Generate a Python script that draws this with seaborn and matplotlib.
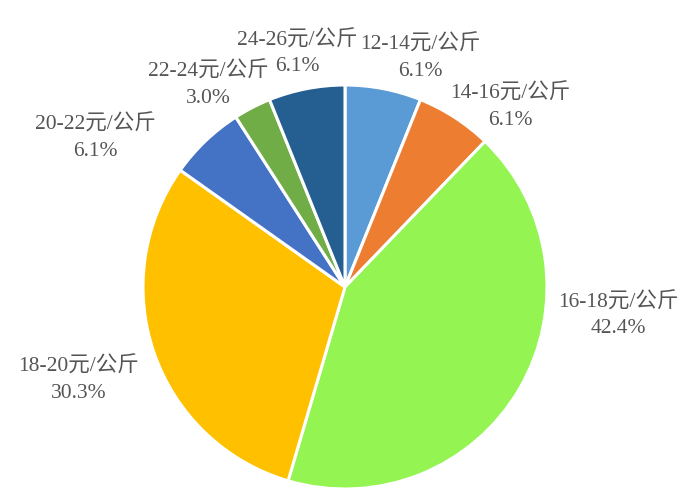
import matplotlib
matplotlib.use("Agg")
import matplotlib.pyplot as plt
import seaborn as sns

sns.set_theme(style="white")
plt.rcParams['font.family'] = ['Liberation Serif', 'Noto Sans CJK SC', 'DejaVu Sans']

categories = ["12-14元/公斤", "14-16元/公斤", "16-18元/公斤", "18-20元/公斤",
              "20-22元/公斤", "22-24元/公斤", "24-26元/公斤"]
percentages = [6.1, 6.1, 42.4, 30.3, 6.1, 3.0, 6.1]
colors = ["#5B9BD5", "#ED7D31", "#94F452", "#FFC000", "#4472C4", "#70AD47", "#255E91"]
# label centres relative to pie centre, in radius units (layout)
label_pos = [(0.371, 1.134), (0.817, 0.891), (1.351, -0.139), (-1.317, -0.460),
             (-1.238, 0.738), (-0.678, 1.000), (-0.238, 1.158)]

W, H = 697, 495
cx, cy, R = 345, 287, 202
fig = plt.figure(figsize=(W / 100, H / 100), dpi=100)
ax = fig.add_axes([(cx - R) / W, (H - cy - R) / H, 2 * R / W, 2 * R / H])
ax.pie(percentages, colors=colors, startangle=90, counterclock=False,
       radius=1, wedgeprops=dict(edgecolor="white", linewidth=2.2))
ax.set_xlim(-1, 1)
ax.set_ylim(-1, 1)
ax.set_aspect("equal")
ax.axis("off")

for cat, p, (dx, dy) in zip(categories, percentages, label_pos):
    ax.text(dx, dy, f"{cat}\n{p:.1f}%", ha="center", va="center",
            multialignment="center", fontsize=15.5, color="#555555",
            linespacing=1.5, clip_on=False)

fig.savefig("out.png", dpi=100, facecolor="white")
